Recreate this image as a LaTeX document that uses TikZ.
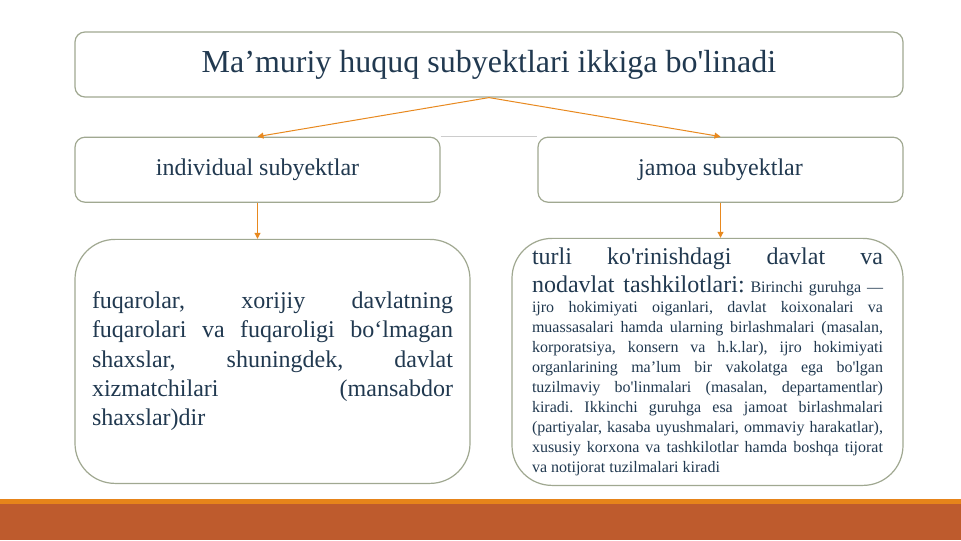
\documentclass[tikz,border=0pt]{standalone}
\usepackage{fontspec}
\setmainfont{Liberation Serif}
\usetikzlibrary{arrows.meta,positioning}
\definecolor{inkblue}{RGB}{33,57,80}
\definecolor{boxline}{RGB}{160,168,145}
\definecolor{arroworange}{RGB}{232,137,31}
\definecolor{striporange}{RGB}{230,132,26}
\definecolor{rust}{RGB}{190,91,45}
\newcommand\sq{\textquotesingle}

\begin{document}
\begin{tikzpicture}[>={Triangle[length=4.5pt,width=4.5pt]}, thick,
  box/.style={draw=boxline, line width=0.9pt, rounded corners=7.5pt, fill=white,
    text=inkblue, inner sep=0pt, align=center},
  bigbox/.style={box, rounded corners=30pt},
  link/.style={->, draw=arroworange, line width=0.75pt}]
  \useasboundingbox[fill=white] (0,0) rectangle (720.75pt,405pt);

  \node[box, minimum width=621pt, minimum height=48.75pt, font=\fontsize{24}{29}\selectfont]
    (title) at (366.75pt,356.625pt) {Ma’muriy huquq subyektlari ikkiga bo\sq linadi};
  \node[box, minimum width=273.75pt, minimum height=48.75pt, font=\fontsize{18}{22}\selectfont]
    (indiv) [below right=29.25pt and 0pt of title.south west] {individual subyektlar};
  \node[box, minimum width=273.75pt, minimum height=48.75pt, font=\fontsize{18}{22}\selectfont]
    (jamoa) [below left=29.25pt and 0pt of title.south east] {jamoa subyektlar};

  \node[bigbox, minimum width=296.25pt, minimum height=183pt, text width=270.75pt,
    align=justify, font=\fontsize{18}{22}\selectfont]
    (fuqaro) [below right=27pt and 0pt of indiv.south west]
    {fuqarolar, xorijiy davlatning\linebreak
     fuqarolari va fuqaroligi bo‘lmagan\linebreak
     shaxslar, shuningdek, davlat\linebreak
     xizmatchilari (mansabdor\linebreak
     shaxslar)dir};
  \node[bigbox, minimum width=293.25pt, minimum height=185.25pt, text width=263.25pt,
    align=justify, font={\fontsize{12}{15}\selectfont\lineskip=5pt\frenchspacing}]
    (tashkilot) [below left=26.25pt and 0pt of jamoa.south east]
    {{\fontsize{18}{21.6}\selectfont turli ko\sq rinishdagi davlat va\linebreak
     nodavlat tashkilotlari:} Birinchi guruhga —\linebreak
     ijro hokimiyati oiganlari, davlat koixonalari va\linebreak
     muassasalari hamda ularning birlashmalari (masalan,\linebreak
     korporatsiya, konsern va h.k.lar), ijro hokimiyati\linebreak
     organlarining ma’lum bir vakolatga ega bo\sq lgan\linebreak
     tuzilmaviy bo\sq linmalari (masalan, departamentlar)\linebreak
     kiradi. Ikkinchi guruhga esa jamoat birlashmalari\linebreak
     (partiyalar, kasaba uyushmalari, ommaviy harakatlar),\linebreak
     xususiy korxona va tashkilotlar hamda boshqa tijorat\linebreak
     va notijorat tuzilmalari kiradi};

  \draw[draw=black!20, line width=0.75pt] (indiv.north east) -- (jamoa.north west);
  \draw[link] (title.south) -- (indiv.north);
  \draw[link] (title.south) -- (jamoa.north);
  \draw[link] (indiv.south) -- (indiv.south |- fuqaro.north);
  \draw[link] (jamoa.south) -- (jamoa.south |- tashkilot.north);

  \fill[striporange] (0,27pt) rectangle (720.75pt,30.75pt);
  \fill[rust] (0,0) rectangle (720.75pt,27pt);
\end{tikzpicture}
\end{document}
